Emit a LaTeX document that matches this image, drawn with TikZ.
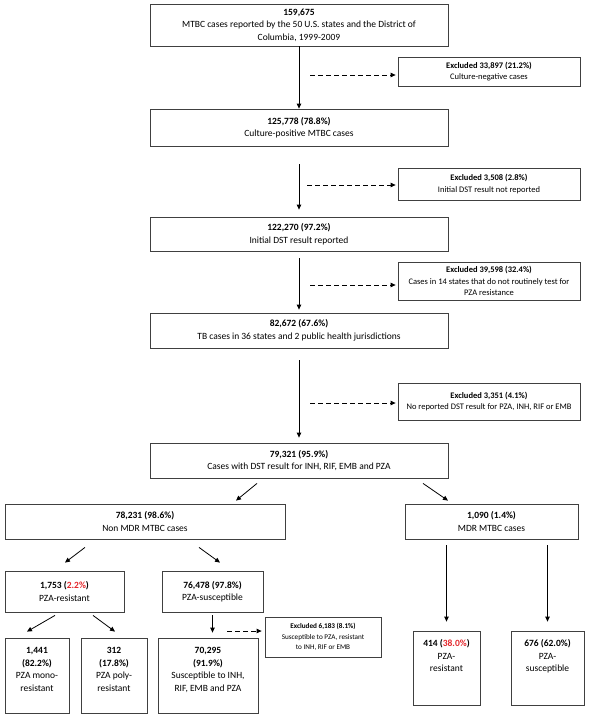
\documentclass[tikz,border=0pt]{standalone}
\usepackage{fontspec}
\setmainfont{Carlito}
\usepackage{xcolor}
\usepackage{tikz}
\usetikzlibrary{arrows.meta}
\definecolor{boxline}{HTML}{404040}
\definecolor{pzared}{HTML}{E3262B}
\tikzset{
  box/.style={draw=boxline,line width=0.8pt,align=center,inner sep=1pt,font=\fontsize{9.5}{12.5}\selectfont},
  excl/.style={box,font=\fontsize{8.5}{11.5}\selectfont},
  arr/.style={-{Triangle[length=5pt,width=4.5pt]},line width=0.8pt},
  darr/.style={arr,dash pattern=on 5pt off 3pt},
}
\begin{document}
\begin{tikzpicture}[x=1pt,y=-1pt]
    \useasboundingbox (0,0) rectangle (589,718);
    % main column
    \node[box,minimum width=298pt,minimum height=42pt] (b1) at (299,25)
      {\textbf{159,675}\\MTBC cases reported by the 50 U.S. states and the District of\\Columbia, 1999-2009};
    \node[box,minimum width=298pt,minimum height=37pt] (b2) at (299,127.5)
      {\textbf{125,778 (78.8\%)}\\Culture-positive MTBC cases};
    \node[box,minimum width=298pt,minimum height=34pt] (b3) at (299,234)
      {\textbf{122,270 (97.2\%)}\\Initial DST result reported};
    \node[box,minimum width=298pt,minimum height=35pt] (b4) at (299,330.5)
      {\textbf{82,672 (67.6\%)}\\TB cases in 36 states and 2 public health jurisdictions};
    \node[box,minimum width=298pt,minimum height=35pt] (b5) at (299,460.5)
      {\textbf{79,321 (95.9\%)}\\Cases with DST result for INH, RIF, EMB and PZA};
    % exclusions
    \node[excl,minimum width=182pt,minimum height=29pt] (e1) at (489,71.5)
      {\textbf{Excluded 33,897 (21.2\%)}\\Culture-negative cases};
    \node[excl,minimum width=182pt,minimum height=32pt] (e2) at (489,184)
      {\textbf{Excluded 3,508 (2.8\%)}\\Initial DST result not reported};
    \node[excl,minimum width=182pt,minimum height=38pt] (e3) at (489,281)
      {\textbf{Excluded 39,598 (32.4\%)}\\Cases in 14 states that do not routinely test for\\PZA resistance};
    \node[excl,minimum width=182pt,minimum height=37pt] (e4) at (489,401.5)
      {\textbf{Excluded 3,351 (4.1\%)}\\No reported DST result for PZA, INH, RIF or EMB};
    \coordinate (d1) at (310,75);
    \coordinate (d2) at (307,185);
    \coordinate (d3) at (310,285);
    \coordinate (d4) at (310,403);
    \draw[arr] (b1.south) -- (b2.north);
    \draw[arr,shorten <=18pt,shorten >=7pt] (b2.south) -- (b3.north);
    \draw[arr,shorten <=7pt,shorten >=3pt] (b3.south) -- (b4.north);
    \draw[arr,shorten <=12pt,shorten >=5pt] (b4.south) -- (b5.north);
    \foreach \i in {1,2,3,4}
      \draw[darr,shorten >=2pt] (d\i) -- (e\i.west |- d\i);
    % split
    \node[box,minimum width=280pt,minimum height=35pt] (b6) at (145,521.5)
      {\textbf{78,231 (98.6\%)}\\Non MDR MTBC cases};
    \node[box,minimum width=173pt,minimum height=35pt] (b7) at (491.5,521.5)
      {\textbf{1,090 (1.4\%)}\\MDR MTBC cases};
    \draw[arr] ([shift={(-42,5)}]b5.south) -- ([shift={(91,-3)}]b6.north);
    \draw[arr] ([shift={(124,5)}]b5.south) -- ([shift={(-43.5,-3)}]b7.north);
    \node[box,minimum width=119pt,minimum height=41pt] (b8) at (64.5,591.5)
      {\textbf{1,753 (\textcolor{pzared}{2.2\%})}\\PZA-resistant};
    \node[box,minimum width=101pt,minimum height=41pt] (b9) at (212.5,591.5)
      {\textbf{76,478 (97.8\%)}\\PZA-susceptible};
    \draw[arr] ([shift={(-60,8)}]b6.south) -- ([shift={(0.5,-8)}]b8.north);
    \draw[arr] ([shift={(54,8)}]b6.south) -- ([shift={(7.5,-8)}]b9.north);
    \node[box,minimum width=64pt,minimum height=75pt] (b10) at (37,675.5)
      {\textbf{1,441}\\\textbf{(82.2\%)}\\PZA mono-\\resistant\\[-0.5pt]};
    \node[box,minimum width=66pt,minimum height=75pt] (b11) at (114,675.5)
      {\textbf{312}\\\textbf{(17.8\%)}\\PZA poly-\\resistant\\[-0.5pt]};
    \node[box,minimum width=100pt,minimum height=75pt] (b12) at (208,675.5)
      {\textbf{70,295}\\\textbf{(91.9\%)}\\Susceptible to INH,\\RIF, EMB and PZA\\[-0.5pt]};
    \node[excl,font=\fontsize{7.2}{10.5}\selectfont,minimum width=116pt,minimum height=40pt] (e5) at (323,637)
      {\textbf{Excluded 6,183 (8.1\%)}\\Susceptible to PZA, resistant\\to INH, RIF or EMB};
    \draw[arr] ([shift={(-9.5,3)}]b8.south) -- ([shift={(-10,-6)}]b10.north);
    \draw[arr] ([shift={(28.5,3)}]b8.south) -- ([shift={(1,-6)}]b11.north);
    \draw[arr,shorten <=3pt,shorten >=5pt] (b9.south) -- (b9.south |- b12.north);
    \coordinate (d5) at (227,631);
    \draw[darr,shorten >=3pt] (d5) -- (e5.west |- d5);
    % MDR branch
    \node[box,minimum width=67pt,minimum height=74pt] (b13) at (446.5,668)
      {\textbf{414 (\textcolor{pzared}{38.0\%})}\\PZA-\\resistant\\[12pt]};
    \node[box,minimum width=73pt,minimum height=74pt] (b14) at (547.5,668)
      {\textbf{676 (62.0\%)}\\PZA-\\susceptible\\[12pt]};
    \draw[arr,shorten <=6pt,shorten >=9pt] (b13.north |- b7.south) -- (b13.north);
    \draw[arr,shorten <=6pt,shorten >=9pt] (b14.north |- b7.south) -- (b14.north);
\end{tikzpicture}
\end{document}
